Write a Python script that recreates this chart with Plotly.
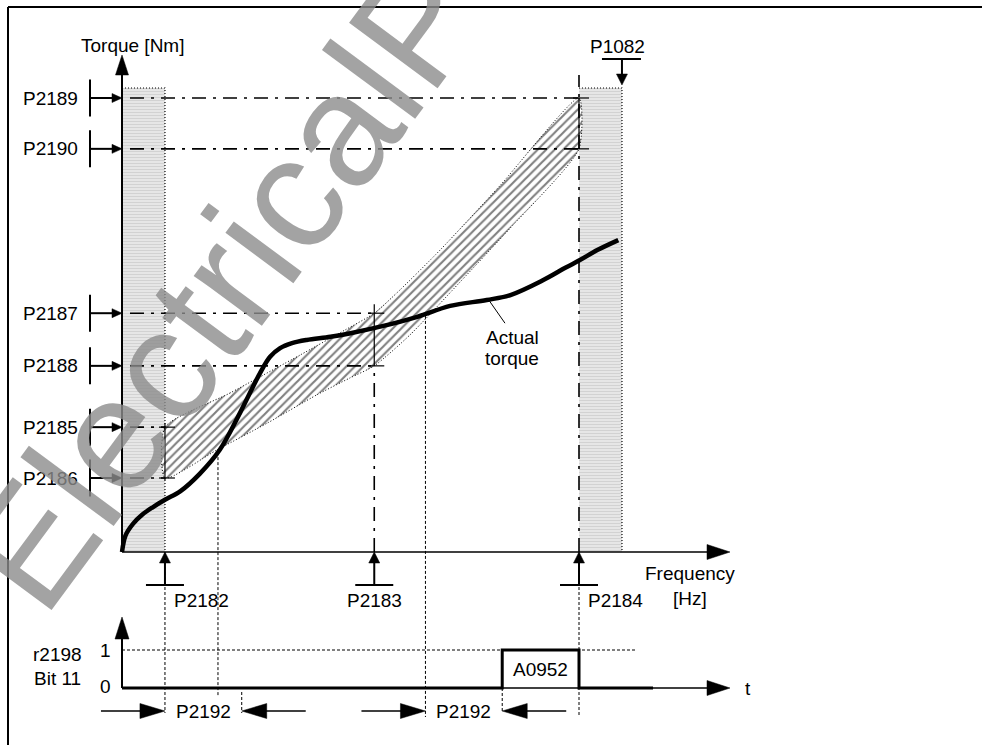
import plotly.graph_objects as go

# ------------------------------------------------------------------ data
# frequency thresholds [Hz]
freq_names = ["P2182", "P2183", "P2184"]
freq_values = [4.7, 27.6, 50.0]
max_freq_name = "P1082"
max_freq_value = 54.7

# torque thresholds [Nm]
upper_names = ["P2185", "P2187", "P2189"]
upper_values = [27.5, 52.6, 100.0]
lower_names = ["P2186", "P2188", "P2190"]
lower_values = [16.3, 41.0, 88.8]

# envelope of the permitted torque band
band_upper_f = [4.7, 11.8, 19.5, 24.4, 27.6, 30.4, 34.8, 41.4, 50.0]
band_upper_t = [27.5, 35.0, 43.4, 48.9, 52.6, 57.7, 66.5, 80.8, 100.0]
band_lower_f = [4.7, 10.4, 15.9, 21.3, 24.9, 27.6, 31.5, 37.0, 42.5, 50.0]
band_lower_t = [16.3, 22.5, 28.4, 34.6, 38.3, 41.0, 47.8, 59.5, 71.4, 88.8]

# actual torque curve
torque_f = [0.0, 0.4, 1.2, 2.2, 3.4, 4.7, 6.4, 8.5, 10.7, 12.9, 15.1, 16.2, 17.3,
            18.6, 20.2, 22.8, 25.0, 28.6, 32.3, 35.9, 39.9, 42.5, 46.1, 48.5,
            50.1, 52.0, 54.3]
torque_t = [0.0, 3.7, 6.2, 8.2, 9.9, 11.5, 13.4, 17.2, 22.5, 30.6, 39.4, 43.0, 44.9,
            46.0, 46.7, 47.4, 48.2, 49.8, 51.8, 54.2, 55.5, 56.6, 59.9, 62.6,
            64.3, 66.5, 68.7]

# band crossings of the actual torque
band_enter_f, band_enter_t = 10.5, 22.0
band_leave_f, band_leave_t = 33.2, 52.0
p2192_delay = 8.4
delay_starts = [4.7, 33.2]

# status word r2198 bit 11 (A0952)
alarm_name = "A0952"
bit_f = [0.0, 41.6, 41.6, 50.0, 50.0, 58.1]
bit_v = [0, 0, 1, 1, 0, 0]

# ------------------------------------------------------------------ scales
W, H = 982, 745
F0_PX, PX_HZ = 122, 9.14
T0_PX, PX_NM = 552, 4.54
B0_PX, PX_BIT = 688, 38.0


def hx(p):
    return p / PX_HZ


def hy(p):
    return p / PX_NM


def hb(p):
    return p / PX_BIT


FONT = "Liberation Sans, Arial, sans-serif"
DASHDOT = "14px,7px,3px,7px"
DOTTED = "3px,2px"

fig = go.Figure()


def line(xs, ys, w=1.0, dash="solid", color="black", yaxis="y", shape="linear"):
    fig.add_trace(go.Scatter(x=xs, y=ys, mode="lines", yaxis=yaxis,
                             line=dict(color=color, width=w, dash=dash, shape=shape),
                             hoverinfo="skip"))


def head(xt, yt, d, length, half, yaxis="y"):
    sy = hy if yaxis == "y" else hb
    if d == "up":
        xs = [xt, xt - hx(half), xt + hx(half), xt]
        ys = [yt, yt - sy(length), yt - sy(length), yt]
    elif d == "down":
        xs = [xt, xt - hx(half), xt + hx(half), xt]
        ys = [yt, yt + sy(length), yt + sy(length), yt]
    elif d == "right":
        xs = [xt, xt - hx(length), xt - hx(length), xt]
        ys = [yt, yt + sy(half), yt - sy(half), yt]
    else:
        xs = [xt, xt + hx(length), xt + hx(length), xt]
        ys = [yt, yt + sy(half), yt - sy(half), yt]
    fig.add_trace(go.Scatter(x=xs, y=ys, mode="lines", fill="toself", fillcolor="black",
                             line=dict(color="black", width=0.5), yaxis=yaxis,
                             hoverinfo="skip"))


annotations = []


def text(t, x, y, xanchor="center", yref="y", size=19):
    annotations.append(dict(text=t, x=x, y=y, xref="x", yref=yref, showarrow=False,
                            xanchor=xanchor, yanchor="middle",
                            font=dict(family=FONT, size=size, color="black")))


p2182, p2183, p2184 = freq_values
p2185, p2187, p2189 = upper_values
p2186, p2188, p2190 = lower_values

# ------------------------------------------------------------------ grey bands
band_top = p2189 + hy(10)
for x0, x1 in [(0, p2182), (p2184, max_freq_value)]:
    fig.add_trace(go.Scatter(x=[x0, x1, x1, x0, x0], y=[0, 0, band_top, band_top, 0],
                             mode="lines", fill="toself", fillcolor="#e8e8e8",
                             fillpattern=dict(shape="-", fgcolor="#bcbcbc", bgcolor="#e8e8e8",
                                              size=3, solidity=0.4),
                             line=dict(width=0), hoverinfo="skip"))
    line([x0, x1, x1], [band_top, band_top, 0], w=1.2, dash="1px,2px")

# ------------------------------------------------------------------ hatched band
hx_poly = band_upper_f + band_lower_f[::-1] + [band_upper_f[0]]
hy_poly = band_upper_t + band_lower_t[::-1] + [band_upper_t[0]]
fig.add_trace(go.Scatter(x=hx_poly, y=hy_poly, mode="lines", fill="toself",
                         fillcolor="white",
                         fillpattern=dict(shape="/", fgcolor="black", bgcolor="white",
                                          size=6, solidity=0.35),
                         line=dict(color="black", width=1, dash="1px,2px", shape="spline",
                                   smoothing=0.6),
                         hoverinfo="skip"))

# ------------------------------------------------------------------ threshold lines
for (ulev, llev, fpos) in [(p2189, p2190, p2184), (p2187, p2188, p2183), (p2185, p2186, p2182)]:
    for lev in (ulev, llev):
        line([hx(8), fpos], [lev, lev], w=1.6, dash=DASHDOT)
        line([fpos - hx(6), fpos + hx(10)], [lev, lev], w=1.2)

line([p2182, p2182], [p2186 - hy(2), p2185 + hy(4)], w=1.2)
line([p2183, p2183], [p2188, p2187 + hy(9)], w=1.2)
line([p2183, p2183], [0, p2188], w=1.6, dash=DASHDOT)
line([p2184, p2184], [0, p2189 + hy(23)], w=1.6, dash=DASHDOT)
line([p2184, p2184], [p2190, p2189], w=1.2)

# dotted guide lines
line([p2182, p2182], [0, -hy(161)], dash=DOTTED)
line([band_enter_f, band_enter_f], [band_enter_t, -hy(145)], dash=DOTTED)
line([band_leave_f, band_leave_f], [band_leave_t, -hy(165)], dash=DOTTED)
line([p2184, p2184], [0, -hy(165)], dash=DOTTED)

# ------------------------------------------------------------------ axes (upper)
y_tip = p2189 + hy(43)
line([0, 0], [0, y_tip - hy(15)], w=2)
head(0, y_tip, "up", 20, 6.5)
x_tip = hx(608)
line([0, x_tip - hx(15)], [0, 0], w=1.3)
head(x_tip, 0, "right", 23, 7.5)

# actual torque
line(torque_f, torque_t, w=4.5, shape="spline")
# leader line for label
line([40.2, 41.9], [55.3, 50.4], w=1)

# torque parameter arrows
for name, val in zip(upper_names + lower_names, upper_values + lower_values):
    line([-hx(32), -hx(32)], [val - hy(18.5), val + hy(18.5)], w=2)
    line([-hx(32), -hx(8)], [val, val], w=2)
    head(0, val, "right", 10, 4.5)
    text(name, -hx(42), val, xanchor="right")

# frequency parameter arrows
for name, val in zip(freq_names, freq_values):
    line([val - hx(19), val + hx(19)], [-hy(33), -hy(33)], w=2)
    line([val, val], [-hy(33), -hy(9)], w=2)
    head(val, 0, "up", 11, 5.5)
    if name == "P2183":
        text(name, val, -hy(48))
    else:
        text(name, val + hx(7), -hy(48), xanchor="left")

# P1082
bar_y = p2189 + hy(39)
line([max_freq_value - hx(20), max_freq_value + hx(19)], [bar_y, bar_y], w=2)
line([max_freq_value, max_freq_value], [bar_y, p2189 + hy(22)], w=2)
head(max_freq_value, p2189 + hy(13), "down", 11, 5.5)
text(max_freq_name, max_freq_value - hx(4), p2189 + hy(52))

text("Torque [Nm]", hx(10), p2189 + hy(53))
text("Frequency", hx(568), -hy(21))
text("[Hz]", hx(568), -hy(46))
text("Actual", 42.7, 46.0 + hy(6))
text("torque", 42.7, 41.4 + hy(6))

# ------------------------------------------------------------------ lower diagram (bit)
b_tip = hb(71)
line([0, 0], [0, b_tip - hb(15)], w=2, yaxis="y2")
head(0, b_tip, "up", 22, 7, "y2")
line([0, hx(514)], [1, 1], dash=DOTTED, yaxis="y2")
line([0, x_tip - hx(15)], [0, 0], w=1.3, yaxis="y2")
head(x_tip, 0, "right", 23, 7.5, "y2")
line(bit_f, bit_v, w=3, yaxis="y2")
text(alarm_name, (bit_f[2] + bit_f[3]) / 2, 0.5, yref="y2")
text("t", x_tip + hx(13), 0, xanchor="left", yref="y2")
text("1", -hx(9), 1.0, xanchor="right", yref="y2")
text("0", -hx(9), 0.03, xanchor="right", yref="y2")
text("r2198", -hx(65), 0.87, yref="y2")
text("Bit 11", -hx(65), 0.26, yref="y2")

ya = -hb(23)
for s in delay_starts:
    e = s + p2192_delay
    line([s - hx(64), s - hx(20)], [ya, ya], w=1.5, yaxis="y2")
    head(s, ya, "right", 25, 7.5, "y2")
    line([e + hx(20), e + hx(64)], [ya, ya], w=1.5, yaxis="y2")
    head(e, ya, "left", 25, 7.5, "y2")
    line([e, e], [-hb(4) if s == delay_starts[0] else 0, -hb(25)], dash=DOTTED, yaxis="y2")
    text("P2192", (s + e) / 2, ya, yref="y2")

# ------------------------------------------------------------------ watermark
annotations.append(dict(text="ElectricalPartManuals.com", xref="paper", yref="paper",
                        x=562 / W, y=1 + 174 / H, showarrow=False, textangle=-53.5,
                        xanchor="center", yanchor="middle",
                        font=dict(family=FONT, size=160, color="rgba(140,140,140,0.8)")))

# frame
shapes = [
    dict(type="line", xref="paper", yref="paper", x0=8 / W, x1=8 / W, y0=0, y1=1 - 7 / H,
         line=dict(color="black", width=2)),
    dict(type="line", xref="paper", yref="paper", x0=8 / W, x1=1, y0=1 - 7 / H, y1=1 - 7 / H,
         line=dict(color="black", width=2)),
]

fig.update_layout(
    width=W, height=H, autosize=False,
    margin=dict(l=0, r=0, t=0, b=0, pad=0),
    paper_bgcolor="white", plot_bgcolor="white",
    showlegend=False,
    xaxis=dict(range=[-F0_PX / PX_HZ, (W - F0_PX) / PX_HZ], visible=False, fixedrange=True),
    yaxis=dict(range=[-(H - T0_PX) / PX_NM, T0_PX / PX_NM], visible=False, fixedrange=True),
    yaxis2=dict(range=[-(H - B0_PX) / PX_BIT, B0_PX / PX_BIT], overlaying="y",
                visible=False, fixedrange=True),
    annotations=annotations,
    shapes=shapes,
)

fig.write_html("out.html", config={"displayModeBar": False},
               post_script="document.body.style.margin='0px';"
                           "document.body.style.overflow='hidden';")
